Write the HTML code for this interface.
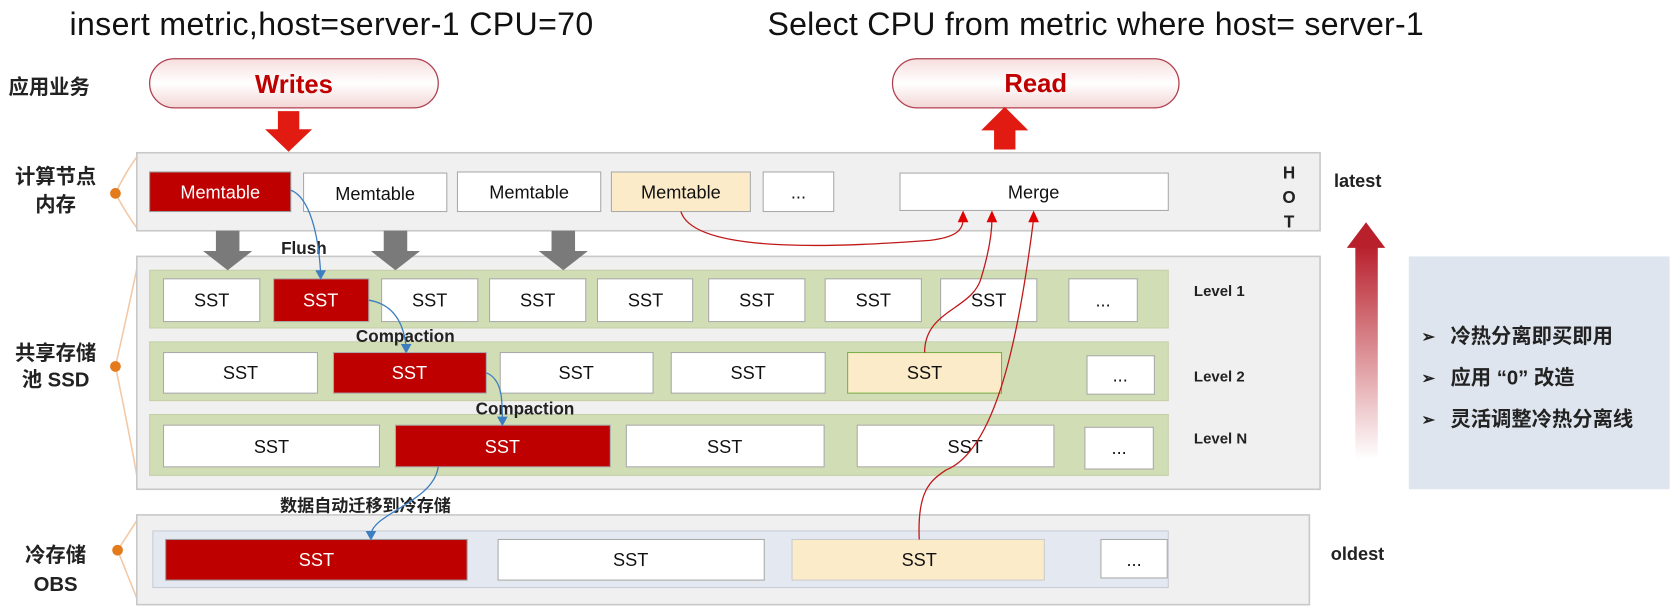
<!DOCTYPE html>
<html><head><meta charset="utf-8"><style>
html,body{margin:0;padding:0;background:#fff;}
svg{display:block;}
text{font-family:"Liberation Sans","Noto Sans CJK SC",sans-serif;}
</style></head><body>
<svg width="1676" height="610" viewBox="0 0 1568 571" preserveAspectRatio="none" xmlns="http://www.w3.org/2000/svg">
<defs>
<linearGradient id="pill" x1="0" y1="0" x2="0" y2="1"><stop offset="0" stop-color="#f6dede"/><stop offset="0.5" stop-color="#fff"/><stop offset="1" stop-color="#f3d6d6"/></linearGradient>
<linearGradient id="big" x1="0" y1="0" x2="0" y2="1"><stop offset="0" stop-color="#b8202c"/><stop offset="1" stop-color="#b8202c" stop-opacity="0"/></linearGradient>
</defs>
<rect width="1568" height="571" fill="#fff"/>
<text x="65" y="33" font-size="30" fill="#111" textLength="490">insert metric,host=server-1 CPU=70</text>
<text x="718" y="33" font-size="30" fill="#111" textLength="614">Select CPU from metric where host= server-1</text>

<text x="8" y="88" font-size="19" font-weight="bold" fill="#222">应用业务</text>
<rect x="140" y="55" width="270" height="46" rx="23" fill="url(#pill)" stroke="#b04050" stroke-width="1.2"/>
<text x="275" y="87" font-size="24" font-weight="bold" fill="#c00000" text-anchor="middle">Writes</text>
<rect x="835" y="55" width="268" height="46" rx="23" fill="url(#pill)" stroke="#b04050" stroke-width="1.2"/>
<text x="969" y="86" font-size="24" font-weight="bold" fill="#c00000" text-anchor="middle">Read</text>
<path d="M260,104 H280 V121 H292 L270,142 L248,121 H260 Z" fill="#e21b12"/>
<path d="M930,140 H950 V122 H962 L940,100 L918,122 H930 Z" fill="#e21b12"/>

<g font-size="19" font-weight="bold" fill="#222" text-anchor="middle">
<text x="52" y="172">计算节点</text><text x="52" y="198">内存</text>
<text x="52" y="337">共享存储</text><text x="52" y="362">池 SSD</text>
<text x="52" y="526">冷存储</text><text x="52" y="553">OBS</text>
</g>
<g stroke="#f3c9a6" stroke-width="1.5" fill="none">
<path d="M108,181 Q118,160 130,144 M108,181 Q118,200 130,216"/>
<path d="M108,343 Q120,290 130,242 M108,343 Q120,400 130,456"/>
<path d="M110,515 Q120,500 130,484 M110,515 Q120,540 130,565"/>
</g>
<circle cx="108" cy="181" r="5" fill="#e37a1c"/>
<circle cx="108" cy="343" r="5" fill="#e37a1c"/>
<circle cx="110" cy="515" r="5" fill="#e37a1c"/>

<rect x="128" y="143" width="1107" height="73" fill="#f0f0f0" stroke="#c8c8c8" stroke-width="1.5"/>
<rect x="140" y="161" width="132" height="37" fill="#be0000" stroke="#999"/>
<rect x="284" y="162" width="134" height="36" fill="#fff" stroke="#aaa"/>
<rect x="428" y="161" width="134" height="37" fill="#fff" stroke="#aaa"/>
<rect x="572" y="161" width="130" height="37" fill="#fbebc8" stroke="#aaa"/>
<rect x="714" y="161" width="66" height="37" fill="#fff" stroke="#aaa"/>
<rect x="842" y="162" width="251" height="35" fill="#fff" stroke="#aaa"/>
<g font-size="17" text-anchor="middle" fill="#111">
<text x="206" y="186" fill="#fff">Memtable</text>
<text x="351" y="187">Memtable</text>
<text x="495" y="186">Memtable</text>
<text x="637" y="186">Memtable</text>
<text x="747" y="186">...</text>
<text x="967" y="186">Merge</text>
</g>
<g font-size="16" font-weight="bold" fill="#222" text-anchor="middle">
<text x="1206" y="167">H</text><text x="1206" y="190">O</text><text x="1206" y="213">T</text>
<text x="1206" y="316">W</text><text x="1206" y="343">A</text><text x="1206" y="370">R</text><text x="1206" y="397">M</text>
<text x="1206" y="498">C</text><text x="1206" y="520">O</text><text x="1206" y="543">L</text><text x="1206" y="565">D</text>
</g>
<text x="1248" y="175" font-size="17" font-weight="bold" fill="#222">latest</text>
<text x="1245" y="524" font-size="17" font-weight="bold" fill="#222">oldest</text>

<rect x="128" y="240" width="1107" height="218" fill="#f0f0f0" stroke="#c8c8c8" stroke-width="1.5"/>
<rect x="140" y="253" width="953" height="54" fill="#d1ddb5" stroke="#c5d0a8"/>
<rect x="140" y="320" width="953" height="55" fill="#d1ddb5" stroke="#c5d0a8"/>
<rect x="140" y="388" width="953" height="57" fill="#d1ddb5" stroke="#c5d0a8"/>

<g fill="#7a7a7a">
<path d="M202,216 H224 V235 H236 L213,253 L190,235 H202 Z"/>
<path d="M359,216 H381 V235 H393 L370,253 L347,235 H359 Z"/>
<path d="M516,216 H538 V235 H550 L527,253 L504,235 H516 Z"/>
</g>
<text x="263" y="238" font-size="16" font-weight="bold" fill="#222">Flush</text>

<g stroke="#aaa" fill="#fff">
<rect x="153" y="261" width="90" height="40"/>
<rect x="256" y="261" width="89" height="40" fill="#be0000"/>
<rect x="357" y="261" width="90" height="40"/>
<rect x="458" y="261" width="90" height="40"/>
<rect x="559" y="261" width="89" height="40"/>
<rect x="663" y="261" width="90" height="40"/>
<rect x="772" y="261" width="90" height="40"/>
<rect x="880" y="261" width="90" height="40"/>
<rect x="1000" y="261" width="64" height="40"/>
<rect x="153" y="330" width="144" height="38"/>
<rect x="312" y="330" width="143" height="38" fill="#be0000"/>
<rect x="468" y="330" width="143" height="38"/>
<rect x="628" y="330" width="144" height="38"/>
<rect x="793" y="330" width="144" height="38" fill="#fbebc8" stroke="#7bb04a"/>
<rect x="1017" y="333" width="63" height="36"/>
<rect x="153" y="398" width="202" height="39"/>
<rect x="370" y="398" width="201" height="39" fill="#be0000"/>
<rect x="586" y="398" width="185" height="39"/>
<rect x="802" y="398" width="184" height="39"/>
<rect x="1015" y="400" width="64" height="39"/>
</g>
<g font-size="17" text-anchor="middle" fill="#111">
<text x="198" y="287">SST</text><text x="300" y="287" fill="#fff">SST</text><text x="402" y="287">SST</text>
<text x="503" y="287">SST</text><text x="604" y="287">SST</text><text x="708" y="287">SST</text>
<text x="817" y="287">SST</text><text x="925" y="287">SST</text><text x="1032" y="287">...</text>
<text x="225" y="355">SST</text><text x="383" y="355" fill="#fff">SST</text><text x="539" y="355">SST</text>
<text x="700" y="355">SST</text><text x="865" y="355">SST</text><text x="1048" y="357">...</text>
<text x="254" y="424">SST</text><text x="470" y="424" fill="#fff">SST</text><text x="678" y="424">SST</text>
<text x="903" y="424">SST</text><text x="1047" y="425">...</text>
</g>
<g font-size="14" font-weight="bold" fill="#222">
<text x="1117" y="277">Level 1</text><text x="1117" y="357">Level 2</text><text x="1117" y="415">Level N</text>
</g>
<text x="333" y="320" font-size="16" font-weight="bold" fill="#222">Compaction</text>
<text x="445" y="388" font-size="16" font-weight="bold" fill="#222">Compaction</text>

<rect x="128" y="482" width="1097" height="84" fill="#f0f0f0" stroke="#c8c8c8" stroke-width="1.5"/>
<rect x="143" y="497" width="950" height="53" fill="#e4e9f1" stroke="#c8ccd4"/>
<rect x="155" y="505" width="282" height="38" fill="#be0000" stroke="#999"/>
<rect x="466" y="505" width="249" height="38" fill="#fff" stroke="#aaa"/>
<rect x="741" y="505" width="236" height="38" fill="#fbebc8" stroke="#ccc"/>
<rect x="1030" y="505" width="62" height="36" fill="#fff" stroke="#aaa"/>
<g font-size="17" text-anchor="middle" fill="#111">
<text x="296" y="530" fill="#fff">SST</text><text x="590" y="530">SST</text><text x="860" y="530">SST</text><text x="1061" y="530">...</text>
</g>
<text x="262" y="479" font-size="16" font-weight="bold" fill="#222">数据自动迁移到冷存储</text>

<g stroke="#3d7ec0" stroke-width="1.2" fill="none">
<path d="M272,178 C290,185 298,220 300,256"/>
<path d="M345,281 C370,285 378,305 380,325"/>
<path d="M455,349 C470,355 470,375 470,393"/>
<path d="M410,437 C405,470 350,480 347,500"/>
</g>
<g fill="#3d7ec0">
<path d="M295,253 L305,253 L300,262 Z"/>
<path d="M375,322 L385,322 L380,331 Z"/>
<path d="M465,390 L475,390 L470,399 Z"/>
<path d="M342,497 L352,497 L347,506 Z"/>
</g>
<g stroke="#c01818" stroke-width="1.2" fill="none">
<path d="M637,198 C650,240 800,230 870,225 C895,222 901,215 901,205"/>
<path d="M865,330 C865,290 910,290 918,260 C924,240 928,220 928,205"/>
<path d="M860,505 C858,460 870,450 885,440 C935,420 955,300 967,205"/>
</g>
<g fill="#e00000">
<path d="M901,197 L906,208 L896,208 Z"/>
<path d="M928,197 L933,208 L923,208 Z"/>
<path d="M967,197 L972,208 L962,208 Z"/>
</g>

<rect x="1268" y="230" width="21" height="200" fill="url(#big)"/>
<path d="M1260,232 L1278,208 L1296,232 Z" fill="#b8202c"/>

<rect x="1318" y="240" width="244" height="218" fill="#dfe5ee"/>
<g font-size="19" font-weight="bold" fill="#222">
<text x="1330" y="320" font-size="15">➢</text><text x="1357" y="321">冷热分离即买即用</text>
<text x="1330" y="359" font-size="15">➢</text><text x="1357" y="360">应用 “0” 改造</text>
<text x="1330" y="398" font-size="15">➢</text><text x="1357" y="399">灵活调整冷热分离线</text>
</g>
</svg>
</body></html>
